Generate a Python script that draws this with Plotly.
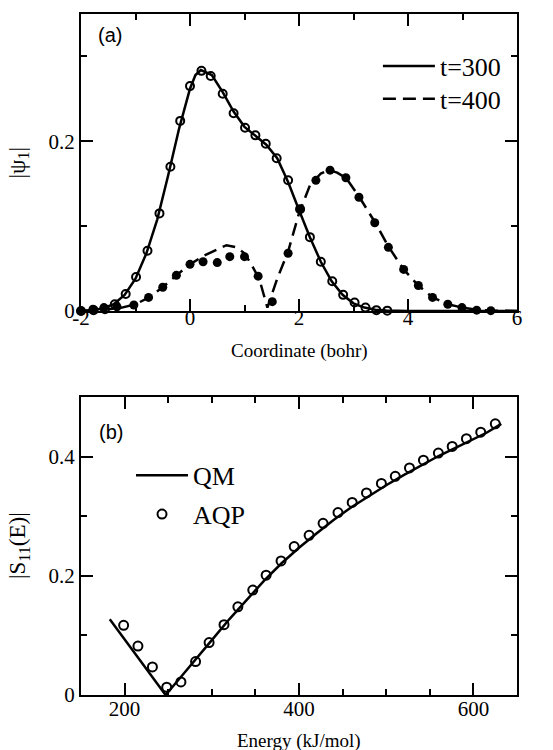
import plotly.graph_objects as go

# ---------------- panel (a) data ----------------
t300_line_x = [-2.0, -1.8, -1.6, -1.4, -1.2, -1.0, -0.8, -0.6, -0.4, -0.2, 0.0, 0.1, 0.2, 0.4, 0.6, 0.8,
               1.0, 1.2, 1.4, 1.6, 1.8, 2.0, 2.2, 2.4, 2.6, 2.8, 3.0, 3.2, 3.4, 3.6, 3.8, 4.0, 6.0]
t300_line_y = [0.0, 0.001, 0.003, 0.008, 0.019, 0.038, 0.068, 0.108, 0.160, 0.215, 0.262, 0.278, 0.284,
               0.278, 0.258, 0.235, 0.217, 0.206, 0.196, 0.180, 0.152, 0.119, 0.087, 0.058, 0.035, 0.019,
               0.009, 0.004, 0.0015, 0.0005, 0.0002, 0.0, 0.0]
t300_aqp_x = [-2.0, -1.77, -1.56, -1.38, -1.18, -0.99, -0.78, -0.56, -0.36, -0.18, 0.0, 0.21, 0.38, 0.60,
              0.80, 1.01, 1.20, 1.39, 1.59, 1.80, 2.02, 2.20, 2.40, 2.61, 2.81, 3.02, 3.22, 3.42, 3.62]
t300_aqp_y = [0.0, 0.001, 0.002, 0.008, 0.020, 0.040, 0.071, 0.115, 0.170, 0.224, 0.265, 0.283, 0.277,
              0.256, 0.233, 0.216, 0.207, 0.197, 0.180, 0.154, 0.120, 0.087, 0.058, 0.035, 0.019, 0.010,
              0.004, 0.001, 0.0004]

t400_line_x = [-2.0, -1.5, -1.25, -1.0, -0.75, -0.5, -0.25, 0.0, 0.25, 0.5, 0.67, 0.85, 1.0, 1.15, 1.27,
               1.42, 1.6, 1.8, 2.0, 2.2, 2.4, 2.55, 2.7, 2.86, 3.1, 3.4, 3.64, 3.92, 4.19, 4.45, 4.73,
               5.0, 5.26, 5.52, 6.0]
t400_line_y = [0.0, 0.002, 0.004, 0.008, 0.016, 0.028, 0.042, 0.055, 0.065, 0.073, 0.0775, 0.075, 0.068,
               0.052, 0.038, 0.004, 0.038, 0.070, 0.115, 0.148, 0.162, 0.166, 0.163, 0.157, 0.135, 0.104,
               0.076, 0.049, 0.030, 0.016, 0.008, 0.004, 0.0015, 0.0005, 0.0]
t400_aqp_x = [-2.0, -1.78, -1.58, -1.34, -1.03, -0.76, -0.50, -0.25, 0.0, 0.24, 0.50, 0.73, 1.0, 1.25,
              1.51, 1.80, 2.02, 2.31, 2.57, 2.86, 3.10, 3.39, 3.64, 3.92, 4.19, 4.45, 4.73, 4.99, 5.26, 5.52]
t400_aqp_y = [0.0, 0.002, 0.004, 0.005, 0.007, 0.016, 0.028, 0.042, 0.055, 0.058, 0.057, 0.064, 0.064,
              0.041, 0.011, 0.068, 0.120, 0.154, 0.166, 0.157, 0.134, 0.104, 0.075, 0.049, 0.030, 0.016,
              0.008, 0.004, 0.001, 0.0004]

# ---------------- panel (b) data ----------------
qm_E = [183, 200, 215, 230, 247, 265, 280, 300, 320, 340, 360, 380, 400, 420, 440, 460, 480, 500, 520,
        540, 560, 580, 600, 615, 632]
qm_S = [0.127, 0.093, 0.064, 0.034, 0.0, 0.031, 0.058, 0.092, 0.127, 0.160, 0.192, 0.221, 0.247, 0.271,
        0.294, 0.315, 0.334, 0.352, 0.369, 0.385, 0.401, 0.415, 0.429, 0.440, 0.455]
aqp_E = [198.9, 215.3, 231.9, 248.3, 264.6, 281.4, 296.9, 314.0, 329.9, 347.0, 362.3, 379.4, 394.5,
         411.6, 427.6, 444.7, 461.0, 477.4, 494.5, 510.4, 526.7, 542.7, 559.8, 575.7, 592.0, 608.4, 625.1]
aqp_S = [0.117, 0.082, 0.047, 0.013, 0.022, 0.056, 0.088, 0.118, 0.148, 0.176, 0.201, 0.225, 0.249,
         0.268, 0.288, 0.306, 0.323, 0.339, 0.355, 0.367, 0.381, 0.394, 0.406, 0.417, 0.430, 0.441, 0.455]

top_xticks = [-2, 0, 2, 4, 6]
top_xticklabels = ["-2", "0", "2", "4", "6"]
top_yticks = [0, 0.2]
top_yticklabels = ["0", "0.2"]
bot_xticks = [200, 400, 600]
bot_yticks = [0, 0.2, 0.4]
bot_yticklabels = ["0", "0.2", "0.4"]

SERIF = "Liberation Serif"
SANS = "Liberation Sans"

fig = go.Figure()

fig.add_trace(go.Scatter(x=t300_line_x, y=t300_line_y, mode="lines", name="t=300",
                         line=dict(color="black", width=2.5), xaxis="x", yaxis="y",
                         legend="legend", cliponaxis=False))
fig.add_trace(go.Scatter(x=t300_aqp_x, y=t300_aqp_y, mode="markers", showlegend=False,
                         marker=dict(symbol="circle-open", size=8, color="black", line=dict(width=2)),
                         xaxis="x", yaxis="y", cliponaxis=False))
fig.add_trace(go.Scatter(x=t400_line_x, y=t400_line_y, mode="lines", name="t=400",
                         line=dict(color="black", width=2.5, dash="13px,7px"), xaxis="x", yaxis="y",
                         legend="legend3", cliponaxis=False))
fig.add_trace(go.Scatter(x=t400_aqp_x, y=t400_aqp_y, mode="markers", showlegend=False,
                         marker=dict(symbol="circle", size=9, color="black"),
                         xaxis="x", yaxis="y", cliponaxis=False))

fig.add_trace(go.Scatter(x=qm_E, y=qm_S, mode="lines", name="QM",
                         line=dict(color="black", width=2.5), xaxis="x2", yaxis="y2",
                         legend="legend2", cliponaxis=False))
fig.add_trace(go.Scatter(x=aqp_E, y=aqp_S, mode="markers", name="AQP",
                         marker=dict(symbol="circle-open", size=9, color="black", line=dict(width=2)),
                         xaxis="x2", yaxis="y2", legend="legend4", cliponaxis=False))

axis_common = dict(showline=True, linecolor="black", linewidth=2, mirror="allticks", ticks="inside",
                   ticklen=12, tickwidth=1.5, tickcolor="black", showgrid=False, zeroline=False,
                   tickfont=dict(family=SERIF, size=21, color="black"))

leg_common = dict(xanchor="left", yanchor="top", bgcolor="rgba(0,0,0,0)", itemwidth=52,
                  font=dict(family=SERIF, size=26, color="black"))

fig.update_layout(
    width=553, height=750,
    margin=dict(l=81, r=36, t=14, b=55),
    paper_bgcolor="white", plot_bgcolor="white",
    xaxis=dict(domain=[0, 1], range=[-2, 6], tickvals=top_xticks, ticktext=top_xticklabels, anchor="y",
               minor=dict(dtick=1, ticks="inside", ticklen=6, tickwidth=1.5, tickcolor="black",
                          showgrid=False),
               ticklabelstandoff=-13, **axis_common),
    yaxis=dict(domain=[0.5639, 1.0], range=[0, 0.35], tickvals=top_yticks, ticktext=top_yticklabels,
               anchor="x",
               minor=dict(tickvals=[0.1, 0.3], ticks="inside", ticklen=6, tickwidth=1.5,
                          tickcolor="black", showgrid=False),
               **axis_common),
    xaxis2=dict(domain=[0, 1], range=[150, 650], tickvals=bot_xticks, anchor="y2",
                minor=dict(dtick=50, tick0=150, ticks="inside", ticklen=6, tickwidth=1.5,
                           tickcolor="black", showgrid=False),
                ticklabelstandoff=-6, **axis_common),
    yaxis2=dict(domain=[0, 0.4376], range=[0, 0.5], tickvals=bot_yticks, ticktext=bot_yticklabels,
                anchor="x2",
                minor=dict(tickvals=[0.1, 0.3], ticks="inside", ticklen=6, tickwidth=1.5,
                           tickcolor="black", showgrid=False),
                **axis_common),
    legend=dict(x=0.681, y=0.958, **leg_common),
    legend3=dict(x=0.681, y=0.910, **leg_common),
    legend2=dict(x=0.1147, y=0.357, **leg_common),
    legend4=dict(x=0.1147, y=0.300, **leg_common),
    showlegend=True,
)

ann = [
    dict(text="(a)", x=0.0654, y=0.969, font=dict(family=SANS, size=20)),
    dict(text="(b)", x=0.0677, y=0.3866, font=dict(family=SANS, size=20)),
    dict(text="Coordinate (bohr)", x=0.5, y=0.505, font=dict(family=SERIF, size=19)),
    dict(text="Energy (kJ/mol)", x=0.5, y=-0.0675, font=dict(family=SERIF, size=19)),
    dict(text="|ψ<sub>1</sub>|", x=-0.142, y=0.782, textangle=-90, font=dict(family=SERIF, size=23)),
    dict(text="|S<sub>11</sub>(E)|", x=-0.142, y=0.2188, textangle=-90,
         font=dict(family=SERIF, size=23)),
]
for a in ann:
    fig.add_annotation(xref="paper", yref="paper", showarrow=False, xanchor="center", yanchor="middle",
                       font_color="black", **a)

fig.write_html("out.html")
